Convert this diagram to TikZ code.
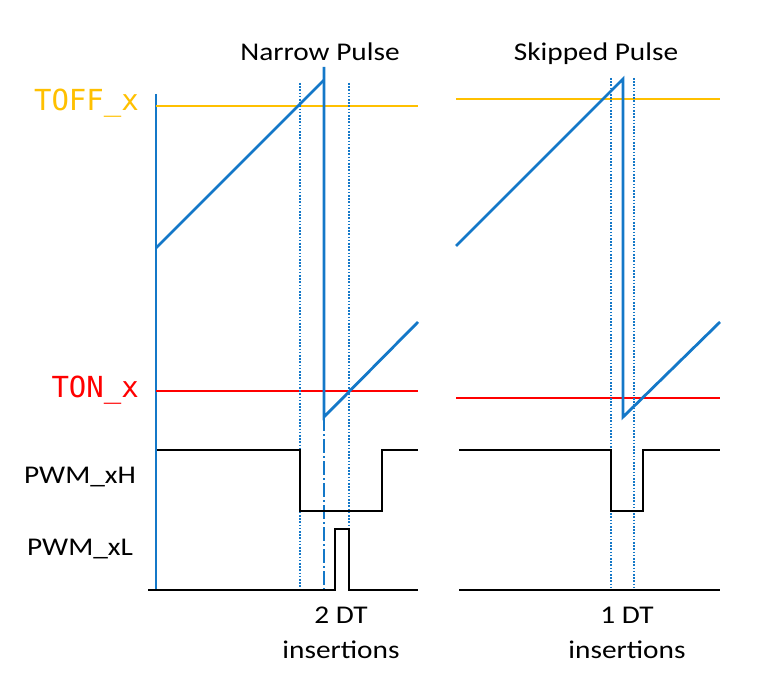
\documentclass[tikz,border=0pt]{standalone}
\usepackage{fontspec}
\setmainfont{Carlito}
\newfontfamily\monofont{DejaVu Sans Mono}
\definecolor{wblue}{RGB}{20,120,200}
\definecolor{wyellow}{RGB}{255,192,0}
\definecolor{wred}{RGB}{255,0,0}
\tikzset{
  ramp/.style={wblue, line width=2.8pt},
  axisline/.style={wblue, line width=1.3pt},
  dotline/.style={wblue, line width=1.7pt, dash pattern=on 1.6pt off 1.6pt},
  dashdotline/.style={wblue, line width=1.6pt, dash pattern=on 14pt off 3pt on 2pt off 3pt},
  offline/.style={wyellow, line width=2.3pt},
  online/.style={wred, line width=2.3pt},
  pwm/.style={black, line width=2.8pt},
  lbl/.style={font=\fontsize{25.5}{30}\selectfont, inner sep=0pt, anchor=base},
  monolbl/.style={font=\monofont\fontsize{29}{34}\selectfont, inner sep=0pt, anchor=base east},
}
\begin{document}
\begin{tikzpicture}[x=1pt, y=-1pt]
\useasboundingbox (0,0) rectangle (771,687);
% ---------- left panel ----------
\draw[axisline] (156,94) -- (156,590);
\draw[offline] (156,106) -- (418,106);
\draw[online] (156,391) -- (418,391);
\draw[dotline] (300,83) -- (300,590);
\draw[dotline] (349,83) -- (349,590);
\draw[ramp] (156,248) -- (324,80);
\draw[ramp] (324,67) -- (324,417) -- (418,322);
\draw[dashdotline] (324,417) -- (324,590);
\draw[pwm] (157,450) -- (300,450) -- (300,511) -- (382,511) -- (382,450) -- (418,450);
\draw[pwm] (148,590) -- (335,590) -- (335,529) -- (349,529) -- (349,590) -- (418,590);
% ---------- right panel ----------
\draw[offline] (456,99) -- (720,99);
\draw[online] (456,398) -- (720,398);
\draw[dotline] (611,78) -- (611,590);
\draw[dotline] (634,78) -- (634,590);
\draw[ramp] (456,246) -- (623,79) -- (623,417) -- (720,322);
\draw[pwm] (459,450) -- (611,450) -- (611,511) -- (643,511) -- (643,450) -- (720,450);
\draw[pwm] (459,590) -- (720,590);
% ---------- labels ----------
\node[monolbl, wyellow] (toff) at (139,111) {TOFF\_x};
\node[monolbl, wred] (ton) at (139,397) {TON\_x};
\node[lbl] (pwmh) at (80,483) {\scalebox{1.15}[1]{PWM\_xH}};
\node[lbl] (pwml) at (80,555) {\scalebox{1.15}[1]{PWM\_xL}};
\node[lbl] (narrow) at (320,61) {\scalebox{1.15}[1]{Narrow Pulse}};
\node[lbl] (skipped) at (596,61) {\scalebox{1.15}[1]{Skipped Pulse}};
\node[lbl] (dt2) at (341,623) {\scalebox{1.15}[1]{2 DT}};
\node[lbl] (ins2) at (341,658) {\scalebox{1.15}[1]{insertions}};
\node[lbl] (dt1) at (627,623) {\scalebox{1.15}[1]{1 DT}};
\node[lbl] (ins1) at (627,658) {\scalebox{1.15}[1]{insertions}};
\end{tikzpicture}
\end{document}
